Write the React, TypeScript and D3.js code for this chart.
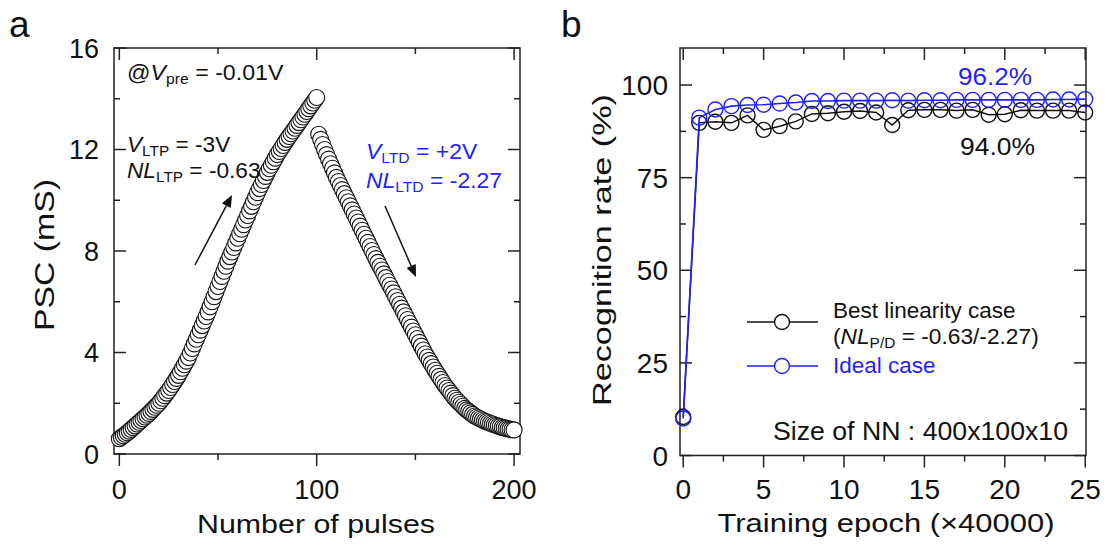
import React from "react";
import * as d3 from "d3";

// ---------- Panel a data ----------
const ltpValues = [
  0.6, 0.66, 0.72, 0.78, 0.84, 0.9, 0.97, 1.04, 1.11, 1.18, 1.25,
  1.32, 1.39, 1.46, 1.53, 1.6, 1.68, 1.76, 1.84, 1.92, 2.0,
  2.1, 2.2, 2.3, 2.4, 2.5, 2.62, 2.74, 2.86, 2.98, 3.1,
  3.24, 3.38, 3.52, 3.66, 3.8, 3.98, 4.16, 4.34, 4.52, 4.7,
  4.88, 5.06, 5.24, 5.42, 5.6, 5.8, 6.0, 6.2, 6.4, 6.6,
  6.8, 7.0, 7.2, 7.4, 7.6, 7.78, 7.96, 8.14, 8.32, 8.5,
  8.68, 8.86, 9.04, 9.22, 9.4, 9.58, 9.76, 9.94, 10.12, 10.3,
  10.46, 10.62, 10.78, 10.94, 11.1, 11.24, 11.38, 11.52, 11.66, 11.8,
  11.92, 12.04, 12.16, 12.28, 12.4, 12.51, 12.62, 12.73, 12.84, 12.95,
  13.06, 13.17, 13.28, 13.39, 13.5, 13.61, 13.72, 13.83, 13.94, 14.05,
];
const ltdValues = [
  12.6, 12.4, 12.2, 12.0, 11.8,
  11.62, 11.44, 11.26, 11.08, 10.9, 10.74, 10.58, 10.42, 10.26, 10.1,
  9.94, 9.78, 9.62, 9.46, 9.3, 9.14, 8.98, 8.82, 8.66, 8.5,
  8.34, 8.18, 8.02, 7.86, 7.7, 7.55, 7.4, 7.25, 7.1, 6.95,
  6.8, 6.65, 6.5, 6.35, 6.2, 6.05, 5.9, 5.75, 5.6, 5.45,
  5.3, 5.15, 5.0, 4.85, 4.7, 4.55, 4.4, 4.25, 4.1, 3.95,
  3.82, 3.69, 3.56, 3.43, 3.3, 3.18, 3.06, 2.94, 2.82, 2.7,
  2.6, 2.5, 2.4, 2.3, 2.2, 2.12, 2.04, 1.96, 1.88, 1.8,
  1.74, 1.68, 1.62, 1.56, 1.5, 1.46, 1.42, 1.38, 1.34, 1.3,
  1.27, 1.24, 1.21, 1.18, 1.15, 1.13, 1.1, 1.08, 1.05, 1.03,
  1.01, 0.99, 0.98, 0.96, 0.95,
];
const ltpStart = 0;
const ltdStart = 101;
const pulseTicks = [0, 100, 200];
const pulseMinorTicks = [0, 50, 100, 150, 200];
const pscTicks = [0, 4, 8, 12, 16];
const pscMinorTicks = [0, 2, 4, 6, 8, 10, 12, 14, 16];

// ---------- Panel b data ----------
const epochs = [0, 1, 2, 3, 4, 5, 6, 7, 8, 9, 10, 11, 12, 13, 14, 15, 16, 17, 18, 19, 20, 21, 22, 23, 24, 25];
const bestCase = [10.4, 89.8, 90.1, 89.8, 91.8, 87.9, 88.9, 90.2, 92.2, 92.4, 92.8, 93.0, 92.6, 89.2, 93.2, 93.3, 93.3, 93.1, 93.3, 92.0, 92.1, 93.2, 93.1, 93.1, 93.1, 92.6];
const idealCase = [10, 91.2, 93.4, 94.3, 94.6, 94.7, 95.0, 95.3, 95.7, 95.7, 95.8, 95.8, 95.8, 95.9, 95.8, 95.9, 95.9, 96.0, 96.0, 96.0, 96.0, 96.0, 96.0, 96.1, 96.1, 96.2];
const epochTicks = [0, 5, 10, 15, 20, 25];
const epochMinorTicks = [0, 2.5, 5, 7.5, 10, 12.5, 15, 17.5, 20, 22.5, 25];
const rateTicks = [0, 25, 50, 75, 100];
const rateMinorTicks = [0, 12.5, 25, 37.5, 50, 62.5, 75, 87.5, 100];

const FONT = "'Liberation Sans', Arial, sans-serif";
const BLUE = "#1f1fff";
const INK = "#111";

function Frame({ x, y }: { x: d3.ScaleLinear<number, number>; y: d3.ScaleLinear<number, number> }) {
  const [x0, x1] = x.range();
  const [y0, y1] = y.range();
  return <rect x={x0} y={y1} width={x1 - x0} height={y0 - y1} fill="none" stroke="#222" strokeWidth={1.5} />;
}

function TicksPanel({ x, y, xMajor, xMinor, yMajor, yMinor, xLabels, yLabels, fontSize, yLabelGap, xLabelDy }: any) {
  const [x0, x1] = x.range();
  const [yb, yt] = y.range();
  const major = 12;
  const minor = 6;
  const els: any[] = [];
  xMinor.forEach((v: number, i: number) => {
    const len = xMajor.includes(v) ? major : minor;
    const px = x(v);
    els.push(<line key={"xb" + i} x1={px} x2={px} y1={yb} y2={yb + len} stroke="#222" strokeWidth={1.5} />);
    els.push(<line key={"xt" + i} x1={px} x2={px} y1={yt} y2={yt + len} stroke="#222" strokeWidth={1.5} />);
  });
  yMinor.forEach((v: number, i: number) => {
    const len = yMajor.includes(v) ? major : minor;
    const py = y(v);
    els.push(<line key={"yl" + i} x1={x0} x2={x0 + len} y1={py} y2={py} stroke="#222" strokeWidth={1.5} />);
    els.push(<line key={"yr" + i} x1={x1} x2={x1 - len} y1={py} y2={py} stroke="#222" strokeWidth={1.5} />);
  });
  xLabels.forEach((v: number, i: number) => {
    els.push(
      <text key={"xl" + i} x={x(v)} y={yb + xLabelDy} textAnchor="middle" fontSize={fontSize} fontFamily={FONT} fill={INK}>
        {v}
      </text>
    );
  });
  yLabels.forEach((v: number, i: number) => {
    els.push(
      <text key={"ylb" + i} x={x0 - yLabelGap} y={y(v)} dy="0.36em" textAnchor="end" fontSize={fontSize} fontFamily={FONT} fill={INK}>
        {v}
      </text>
    );
  });
  return <g>{els}</g>;
}

function Arrow({ x1, y1, x2, y2 }: { x1: number; y1: number; x2: number; y2: number }) {
  const ang = Math.atan2(y2 - y1, x2 - x1);
  const L = 12, W = 5;
  const bx = x2 - L * Math.cos(ang), by = y2 - L * Math.sin(ang);
  const p1 = [bx + W * Math.sin(ang), by - W * Math.cos(ang)];
  const p2 = [bx - W * Math.sin(ang), by + W * Math.cos(ang)];
  return (
    <g>
      <line x1={x1} y1={y1} x2={bx} y2={by} stroke={INK} strokeWidth={1.5} />
      <polygon points={`${x2},${y2} ${p1[0]},${p1[1]} ${p2[0]},${p2[1]}`} fill={INK} />
    </g>
  );
}

// Annotation with italic symbol + subscript
function SubText({ x, y, pre, sym, sub, post, color, size, sx }: any) {
  return (
    <g transform={`translate(${x},${y}) scale(${sx},1)`}>
      <text x={0} y={0} fontSize={size} fill={color} fontFamily={FONT}>
        {pre}
        <tspan fontStyle="italic">{sym}</tspan>
        <tspan fontSize={size * 0.68} dy={size * 0.18}>{sub}</tspan>
        <tspan dy={-size * 0.18}>{post}</tspan>
      </text>
    </g>
  );
}

export default function App() {
  const xa = d3.scaleLinear().domain([-2.7, 203]).range([114, 520]);
  const ya = d3.scaleLinear().domain([0, 16]).range([454, 48]);
  const xb = d3.scaleLinear().domain([-0.2, 25.05]).range([680, 1086]);
  const yb = d3.scaleLinear().domain([0, 110]).range([455.5, 48]);

  const ltpPts = ltpValues.map((v, i) => ({ p: ltpStart + i, v }));
  const ltdPts = ltdValues.map((v, i) => ({ p: ltdStart + i, v }));
  const allA = [...ltpPts, ...ltdPts];

  const lineB = d3
    .line<number>()
    .x((_, i) => xb(epochs[i]))
    .y((d) => yb(d));

  return (
    <svg width={1106} height={544} style={{ position: "absolute", left: 0, top: 0, background: "#fff" }} fontFamily={FONT}>
      <rect width={1106} height={544} fill="#fff" />
      {/* ---------- Panel a ---------- */}
      <text x={9} y={37} fontSize={37} fill={INK}>a</text>
      <Frame x={xa} y={ya} />
      <TicksPanel x={xa} y={ya} xMajor={pulseTicks} xMinor={pulseMinorTicks} yMajor={pscTicks} yMinor={pscMinorTicks}
        xLabels={pulseTicks} yLabels={pscTicks} fontSize={27} yLabelGap={15} xLabelDy={45} />
      {allA.map((d, i) => (
        <circle key={i} cx={xa(d.p)} cy={ya(d.v)} r={8} fill="#fff" stroke={INK} strokeWidth={1.1} />
      ))}
      <text transform="translate(54,255) rotate(-90)" textAnchor="middle" fontSize={28} fill={INK}
        textLength={152} lengthAdjust="spacingAndGlyphs">
        PSC (mS)
      </text>
      <text x={316} y={533} textAnchor="middle" fontSize={25} fill={INK} textLength={238} lengthAdjust="spacingAndGlyphs">
        Number of pulses
      </text>
      <SubText x={127} y={80} pre="@" sym="V" sub="pre" post=" = -0.01V" color={INK} size={22.5} sx={1.03} />
      <SubText x={127} y={152} pre="" sym="V" sub="LTP" post=" = -3V" color={INK} size={22} sx={1.03} />
      <SubText x={127} y={178} pre="" sym="NL" sub="LTP" post=" = -0.63" color={INK} size={22} sx={1.03} />
      <SubText x={366} y={159} pre="" sym="V" sub="LTD" post=" = +2V" color={BLUE} size={22.5} sx={1.02} />
      <SubText x={366} y={188} pre="" sym="NL" sub="LTD" post=" = -2.27" color={BLUE} size={22.5} sx={1.02} />
      <Arrow x1={195} y1={265} x2={232} y2={195} />
      <Arrow x1={385} y1={206} x2={416} y2={277} />

      {/* ---------- Panel b ---------- */}
      <text x={561} y={37} fontSize={37} fill={INK}>b</text>
      <Frame x={xb} y={yb} />
      <TicksPanel x={xb} y={yb} xMajor={epochTicks} xMinor={epochMinorTicks} yMajor={rateTicks} yMinor={rateMinorTicks}
        xLabels={epochTicks} yLabels={rateTicks} fontSize={28} yLabelGap={12} xLabelDy={43} />
      <path d={lineB(bestCase) || ""} fill="none" stroke={INK} strokeWidth={1.5} />
      {bestCase.map((v, i) => (
        <circle key={"bc" + i} cx={xb(epochs[i])} cy={yb(v)} r={7.5} fill="none" stroke={INK} strokeWidth={1.4} />
      ))}
      <path d={lineB(idealCase) || ""} fill="none" stroke={BLUE} strokeWidth={1.6} />
      {idealCase.map((v, i) => (
        <circle key={"ic" + i} cx={xb(epochs[i])} cy={yb(v)} r={7.5} fill="none" stroke={BLUE} strokeWidth={1.4} />
      ))}
      <text x={958} y={85} fontSize={24.5} fill={BLUE} textLength={74} lengthAdjust="spacingAndGlyphs">96.2%</text>
      <text x={960} y={155} fontSize={24.5} fill={INK} textLength={75} lengthAdjust="spacingAndGlyphs">94.0%</text>

      {/* legend */}
      <line x1={747} x2={818} y1={322} y2={322} stroke={INK} strokeWidth={1.5} />
      <circle cx={782} cy={322} r={7.5} fill="#fff" stroke={INK} strokeWidth={1.4} />
      <text x={833} y={318} fontSize={22.5} fill={INK}>Best linearity case</text>
      <SubText x={833} y={344} pre="(" sym="NL" sub="P/D" post=" = -0.63/-2.27)" color={INK} size={22.5} sx={1.01} />
      <line x1={747} x2={818} y1={366} y2={366} stroke={BLUE} strokeWidth={1.5} />
      <circle cx={782} cy={366} r={7.5} fill="#fff" stroke={BLUE} strokeWidth={1.4} />
      <text x={833} y={373} fontSize={22.5} fill={BLUE}>Ideal case</text>

      <text x={773} y={440} fontSize={25} fill={INK} textLength={295} lengthAdjust="spacingAndGlyphs">
        Size of NN : 400x100x10
      </text>

      <text transform="translate(611,250) rotate(-90)" textAnchor="middle" fontSize={26} fill={INK}
        textLength={312} lengthAdjust="spacingAndGlyphs">
        Recognition rate (%)
      </text>
      <text x={886} y={532} textAnchor="middle" fontSize={25} fill={INK} textLength={337} lengthAdjust="spacingAndGlyphs">
        Training epoch (×40000)
      </text>
    </svg>
  );
}
